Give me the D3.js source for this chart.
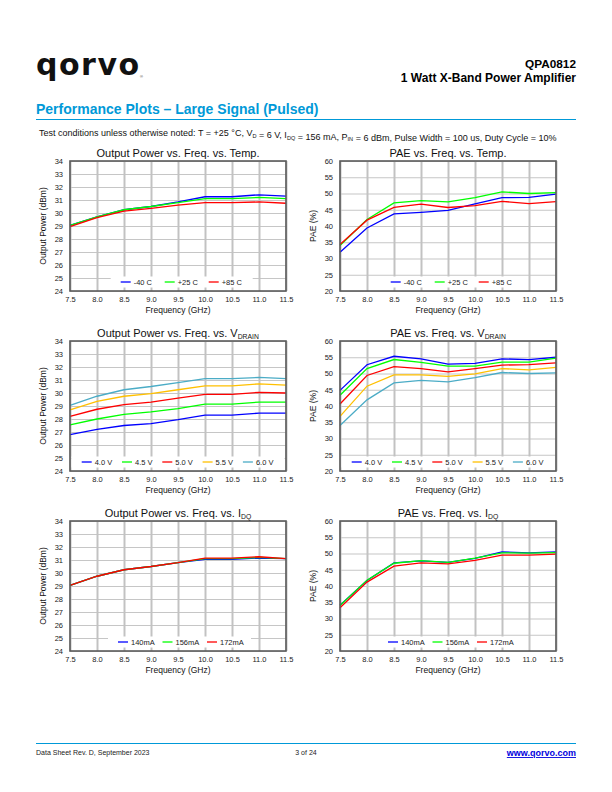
<!DOCTYPE html>
<html><head><meta charset="utf-8">
<script src="https://cdn.jsdelivr.net/npm/d3@7"></script>
<style>
body{margin:0;background:#fff}
svg{display:block;font-family:"Liberation Sans",Arial,sans-serif}
</style></head>
<body><svg id="page" width="612" height="792"></svg>
<script>
// ---------- DATA ----------
const freqs = [7.5, 8.0, 8.5, 9.0, 9.5, 10.0, 10.5, 11.0, 11.5];
const xTickLabels = ["7.5","8.0","8.5","9.0","9.5","10.0","10.5","11.0","11.5"];
const powerTicks = [24,25,26,27,28,29,30,31,32,33,34];
const paeTicks = [20,25,30,35,40,45,50,55,60];

const tempLabels = ["-40 C", "+25 C", "+85 C"];
const powerTempM40 = [29.05, 29.7, 30.25, 30.5, 30.85, 31.25, 31.25, 31.4, 31.3];
const powerTemp25  = [29.05, 29.7, 30.25, 30.5, 30.8, 31.1, 31.1, 31.2, 31.1];
const powerTemp85  = [28.95, 29.65, 30.15, 30.35, 30.6, 30.8, 30.8, 30.85, 30.75];
const paeTempM40 = [31.9, 39.4, 43.7, 44.2, 44.8, 46.8, 48.7, 48.8, 49.8];
const paeTemp25  = [34.0, 42.0, 47.1, 47.8, 47.4, 48.7, 50.5, 50.0, 50.3];
const paeTemp85  = [34.3, 41.8, 45.7, 46.7, 45.7, 46.3, 47.6, 46.9, 47.5];

const vdLabels = ["4.0 V", "4.5 V", "5.0 V", "5.5 V", "6.0 V"];
const powerVd40 = [26.8, 27.2, 27.5, 27.65, 27.95, 28.3, 28.3, 28.45, 28.45];
const powerVd45 = [27.55, 28.0, 28.35, 28.55, 28.8, 29.15, 29.15, 29.3, 29.3];
const powerVd50 = [28.2, 28.75, 29.1, 29.3, 29.6, 29.9, 29.9, 30.05, 30.0];
const powerVd55 = [28.7, 29.35, 29.75, 29.95, 30.25, 30.55, 30.55, 30.7, 30.6];
const powerVd60 = [29.05, 29.75, 30.25, 30.5, 30.8, 31.1, 31.1, 31.2, 31.1];
const paeVd40 = [44.8, 52.7, 55.3, 54.5, 52.9, 53.1, 54.5, 54.3, 55.0];
const paeVd45 = [43.3, 51.5, 54.3, 53.4, 52.3, 52.3, 53.5, 53.5, 54.7];
const paeVd50 = [40.6, 49.4, 52.1, 51.5, 50.5, 51.5, 52.6, 52.7, 53.3];
const paeVd55 = [36.8, 46.1, 49.6, 49.6, 49.1, 49.9, 51.5, 51.1, 51.9];
const paeVd60 = [34.0, 41.9, 47.1, 47.9, 47.4, 48.7, 50.3, 50.0, 50.2];

const idqLabels = ["140mA", "156mA", "172mA"];
const powerIdq140 = [29.05, 29.75, 30.25, 30.5, 30.8, 31.05, 31.05, 31.15, 31.1];
const powerIdq156 = [29.05, 29.75, 30.25, 30.5, 30.8, 31.1, 31.1, 31.2, 31.1];
const powerIdq172 = [29.05, 29.75, 30.25, 30.5, 30.8, 31.15, 31.15, 31.25, 31.1];
const paeIdq140 = [34.05, 41.7, 47.1, 47.7, 47.3, 48.5, 50.5, 50.2, 50.5];
const paeIdq156 = [34.0, 41.8, 47.0, 47.8, 47.3, 48.6, 50.2, 50.1, 50.3];
const paeIdq172 = [33.3, 41.2, 46.1, 47.1, 46.8, 47.9, 49.5, 49.5, 49.8];

// ---------- STYLE ----------
const C_BLUE="#0000ff", C_GREEN="#00ff00", C_RED="#ff0000", C_ORANGE="#ffc000", C_TEAL="#4bacc6";
const QBLUE = "#0099d8";
const svg = d3.select("#page");

// ---------- HEADER ----------
svg.append("text").attr("x",36).attr("y",75).attr("font-family","DejaVu Sans")
  .attr("font-weight","bold").attr("font-size",30).attr("letter-spacing",1.5).attr("fill","#111").text("qorvo");
svg.append("text").attr("x",140).attr("y",78).attr("font-size",4).attr("fill","#333").text("®");
svg.append("text").attr("x",576).attr("y",67.5).attr("text-anchor","end").attr("font-weight","bold")
  .attr("font-size",11.8).text("QPA0812");
svg.append("text").attr("x",576).attr("y",81.5).attr("text-anchor","end").attr("font-weight","bold")
  .attr("font-size",12).text("1 Watt X-Band Power Amplifier");
svg.append("text").attr("x",36).attr("y",114).attr("font-weight","bold").attr("font-size",14)
  .attr("fill",QBLUE).text("Performance Plots – Large Signal (Pulsed)");
svg.append("line").attr("x1",36).attr("x2",576).attr("y1",119.5).attr("y2",119.5)
  .attr("stroke",QBLUE).attr("stroke-width",1.2);

function richText(sel, parts, size){
  parts.forEach(p=>{
    if(typeof p==="string") sel.append("tspan").attr("font-size",size).text(p);
    else {
      sel.append("tspan").attr("font-size",size*0.62).attr("dy",size*0.2).text(p.sub);
      sel.append("tspan").attr("font-size",size).attr("dy",-size*0.2).text("");
    }
  });
}
const tc = svg.append("text").attr("x",39).attr("y",136).attr("fill","#111");
richText(tc, ["Test conditions unless otherwise noted: T = +25 °C, V",{sub:"D"}," = 6 V, I",{sub:"DQ"},
  " = 156 mA, P",{sub:"IN"}," = 6 dBm, Pulse Width = 100 us, Duty Cycle = 10%"], 9);

// ---------- CHARTS ----------
const PW = 216, PH = 130;
const charts = [
  {x:70, y:161, title:["Output Power vs. Freq. vs. Temp."], ylabel:"Output Power (dBm)", dom:[24,34], ticks:powerTicks,
   names:tempLabels, colors:[C_BLUE,C_GREEN,C_RED], vals:[powerTempM40,powerTemp25,powerTemp85], lx:50.7, ls:44},
  {x:340, y:161, title:["PAE vs. Freq. vs. Temp."], ylabel:"PAE (%)", dom:[20,60], ticks:paeTicks,
   names:tempLabels, colors:[C_BLUE,C_GREEN,C_RED], vals:[paeTempM40,paeTemp25,paeTemp85], lx:50.7, ls:44},
  {x:70, y:341, title:["Output Power vs. Freq. vs. V",{sub:"DRAIN"}], ylabel:"Output Power (dBm)", dom:[24,34], ticks:powerTicks,
   names:vdLabels, colors:[C_BLUE,C_GREEN,C_RED,C_ORANGE,C_TEAL], vals:[powerVd40,powerVd45,powerVd50,powerVd55,powerVd60], lx:11.7, ls:40.3},
  {x:340, y:341, title:["PAE vs. Freq. vs. V",{sub:"DRAIN"}], ylabel:"PAE (%)", dom:[20,60], ticks:paeTicks,
   names:vdLabels, colors:[C_BLUE,C_GREEN,C_RED,C_ORANGE,C_TEAL], vals:[paeVd40,paeVd45,paeVd50,paeVd55,paeVd60], lx:11.7, ls:40.3},
  {x:70, y:521, title:["Output Power vs. Freq. vs. I",{sub:"DQ"}], ylabel:"Output Power (dBm)", dom:[24,34], ticks:powerTicks,
   names:idqLabels, colors:[C_BLUE,C_GREEN,C_RED], vals:[powerIdq140,powerIdq156,powerIdq172], lx:48, ls:44.5},
  {x:340, y:521, title:["PAE vs. Freq. vs. I",{sub:"DQ"}], ylabel:"PAE (%)", dom:[20,60], ticks:paeTicks,
   names:idqLabels, colors:[C_BLUE,C_GREEN,C_RED], vals:[paeIdq140,paeIdq156,paeIdq172], lx:48, ls:44.5}
];

charts.forEach(cf=>{
  const g = svg.append("g").attr("transform",`translate(${cf.x},${cf.y})`);
  const xs = d3.scaleLinear().domain([7.5,11.5]).range([0,PW]);
  const ys = d3.scaleLinear().domain(cf.dom).range([PH,0]);
  // gridlines
  g.append("g").attr("class","hgrid").call(d3.axisLeft(ys).tickValues(cf.ticks).tickSize(-PW).tickFormat(""))
    .call(a=>{a.select(".domain").remove(); a.selectAll("line").attr("stroke","#c6c6c6").attr("stroke-width",1.2);});
  g.append("g").attr("class","vgrid").attr("transform",`translate(0,${PH})`)
    .call(d3.axisBottom(xs).tickValues(freqs).tickSize(-PH).tickFormat(""))
    .call(a=>{a.select(".domain").remove(); a.selectAll("line").attr("stroke","#c2c2c2").attr("stroke-width",2);});
  // series
  const line = d3.line().x((d,i)=>xs(freqs[i])).y(d=>ys(d));
  cf.vals.forEach((v,k)=>{
    g.append("path").datum(v).attr("d",line).attr("fill","none").attr("stroke",cf.colors[k]).attr("stroke-width",1.3);
  });
  // legend
  const lg = g.append("g").attr("transform",`translate(0,${PH-9})`);
  const bg = lg.append("rect").attr("fill","#fff");
  cf.names.forEach((n,k)=>{
    const x0 = cf.lx + k*cf.ls;
    lg.append("line").attr("x1",x0).attr("x2",x0+10).attr("y1",0).attr("y2",0).attr("stroke",cf.colors[k]).attr("stroke-width",1.3);
    lg.append("text").attr("x",x0+13).attr("y",2.6).attr("font-size",7.5).attr("fill","#222").text(n);
  });
  const lastX = cf.lx + (cf.names.length-1)*cf.ls + 40;
  const bx0 = cf.names.length===5 ? 1.5 : cf.lx-10;
  const bx1 = cf.names.length===5 ? PW-1.5 : lastX+4;
  bg.attr("x",bx0).attr("y",-5.5).attr("width",bx1-bx0).attr("height",11);
  // frame
  g.append("rect").attr("x",0).attr("y",0).attr("width",PW).attr("height",PH)
    .attr("fill","none").attr("stroke","#5a5a5a").attr("stroke-width",1.6);
  // tick labels
  g.append("g").attr("transform",`translate(0,${PH})`)
    .call(d3.axisBottom(xs).tickValues(freqs).tickSize(0).tickPadding(6).tickFormat((d,i)=>xTickLabels[i]))
    .call(a=>{a.select(".domain").remove(); a.selectAll("text").attr("font-size",7.5).attr("fill","#222").attr("font-family","Liberation Sans, Arial, sans-serif");});
  g.append("g")
    .call(d3.axisLeft(ys).tickValues(cf.ticks).tickSize(0).tickPadding(7).tickFormat(d3.format("d")))
    .call(a=>{a.select(".domain").remove(); a.selectAll("text").attr("font-size",7.5).attr("fill","#222").attr("font-family","Liberation Sans, Arial, sans-serif");});
  // titles
  const t = g.append("text").attr("x",PW/2).attr("y",-4.5).attr("text-anchor","middle").attr("fill","#111");
  richText(t, cf.title, 11);
  g.append("text").attr("x",PW/2).attr("y",PH+21.5).attr("text-anchor","middle").attr("font-size",8.5).attr("fill","#111").text("Frequency (GHz)");
  g.append("text").attr("transform",`translate(-24,${PH/2}) rotate(-90)`).attr("text-anchor","middle")
    .attr("font-size",8.5).attr("fill","#111").text(cf.ylabel);
});

// ---------- FOOTER ----------
svg.append("line").attr("x1",36).attr("x2",576).attr("y1",743.5).attr("y2",743.5).attr("stroke",QBLUE).attr("stroke-width",1.2);
svg.append("text").attr("x",36).attr("y",755).attr("font-size",7).attr("fill","#222").text("Data Sheet Rev. D, September 2023");
svg.append("text").attr("x",306).attr("y",755).attr("text-anchor","middle").attr("font-size",7).attr("fill","#222").text("3 of 24");
svg.append("text").attr("x",576).attr("y",756).attr("text-anchor","end").attr("font-size",9).attr("font-weight","bold")
  .attr("fill","#0000dd").attr("text-decoration","underline").text("www.qorvo.com");
</script></body></html>
